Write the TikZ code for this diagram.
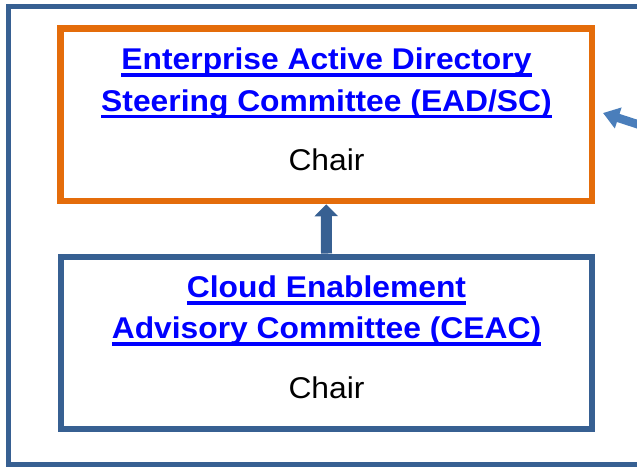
\documentclass[tikz,border=0pt]{standalone}
\usepackage{fontspec}
\setmainfont{Liberation Sans}[FakeStretch=1.06]
\usetikzlibrary{arrows.meta}
\definecolor{board blue}{RGB}{55,96,146}
\definecolor{board orange}{RGB}{228,108,10}
\definecolor{link blue}{RGB}{0,0,255}
\definecolor{feed blue}{RGB}{74,126,187}
\newcommand{\linked}[1]{\setbox0\hbox{#1}\rlap{\rule[-7.2pt]{\wd0}{3.4pt}}\box0}
\def\pagearea{(0,0) rectangle (637,467)}
\tikzset{
  frame/.style={draw=board blue, line width=5pt},
  board/.style={rectangle, minimum width=531.5pt, minimum height=172.5pt, inner sep=0pt},
  eadbox/.style={board, draw=board orange, line width=6.5pt},
  ceacbox/.style={board, draw=board blue, line width=6pt},
  title/.style={anchor=base, inner sep=0pt, text=link blue, font=\fontsize{30}{36}\selectfont\bfseries},
  chair/.style={anchor=base, inner sep=0pt, font=\fontsize{30}{36}\selectfont},
  report/.style={draw=board blue, line width=11pt, -{Triangle[width=23pt,length=12pt]}},
  feed/.style={draw=feed blue, line width=8.5pt, -{Triangle[width=21pt,length=16pt]}}
}
\begin{document}
\begin{tikzpicture}[x=1pt, y=-1pt]
  \useasboundingbox \pagearea;
  \clip \pagearea;
  \draw[frame] (8.5,6.5) rectangle (680,464.5);
  % the two committees
  \node[eadbox] (ead) at (326.25,114.75) {};
  \node[ceacbox] (ceac) at (326.5,342.75) {};
  \node[title] (eadtop) at (326.5,69.5) {\linked{Enterprise Active Directory}};
  \node[title] (eadbot) at (326.5,111) {\linked{Steering Committee (EAD/SC)}};
  \node[chair] (eadchair) at (326.5,170) {Chair};
  \node[title] (ceactop) at (326.5,297.5) {\linked{Cloud Enablement}};
  \node[title] (ceacbot) at (326.5,338.5) {\linked{Advisory Committee (CEAC)}};
  \node[chair] (ceacchair) at (326.5,398) {Chair};
  \draw[report] (ceac.north) -- (ead.south);
  % arrow coming in from the right
  \coordinate (feedfrom) at (680,138);
  \coordinate (feedto) at (603,113);
  \draw[feed] (feedfrom) -- (feedto);
\end{tikzpicture}
\end{document}
